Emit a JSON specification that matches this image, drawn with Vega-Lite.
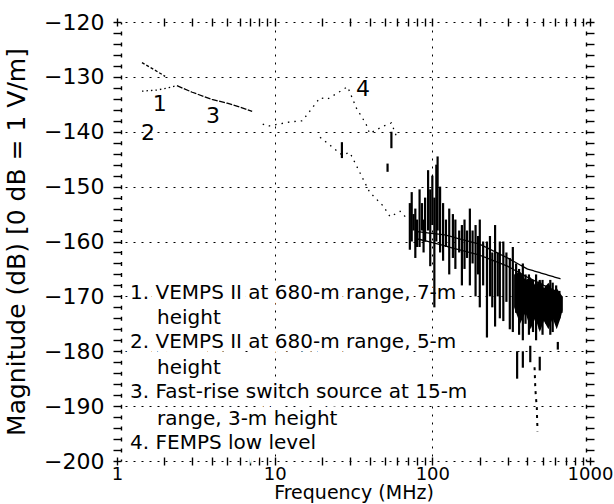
{
  "$schema": "https://vega.github.io/schema/vega-lite/v6.json",
  "width": 473,
  "height": 439,
  "autosize": "none",
  "padding": {"left": 117, "top": 22, "right": 24, "bottom": 43},
  "background": "white",
  "config": {
    "view": {"stroke": null},
    "font": "DejaVu Sans",
    "axis": {
      "domainColor": "black", "tickColor": "black", "labelColor": "black", "titleColor": "black",
      "gridColor": "black", "labelFontSize": 20, "titleFontSize": 20, "titleFontWeight": "normal",
      "labelFont": "DejaVu Sans", "titleFont": "DejaVu Sans", "tickWidth": 1.4, "domainWidth": 1.4
    }
  },
  "datasets": {
    "spikes": [
      {"f": 72, "lo": -161.5, "hi": -153}, {"f": 74, "lo": -160, "hi": -151}, {"f": 76, "lo": -158, "hi": -155},
      {"f": 78, "lo": -163, "hi": -154}, {"f": 80, "lo": -161, "hi": -156}, {"f": 83, "lo": -161, "hi": -150.5},
      {"f": 86, "lo": -158, "hi": -153}, {"f": 88, "lo": -162, "hi": -156}, {"f": 90, "lo": -160, "hi": -152},
      {"f": 94, "lo": -158, "hi": -147}, {"f": 97, "lo": -164.5, "hi": -150.5}, {"f": 100, "lo": -157, "hi": -148},
      {"f": 103, "lo": -172, "hi": -152}, {"f": 106, "lo": -160, "hi": -146}, {"f": 108, "lo": -158, "hi": -144.5},
      {"f": 112, "lo": -162, "hi": -150}, {"f": 117, "lo": -163.5, "hi": -153}, {"f": 122, "lo": -161, "hi": -156},
      {"f": 128, "lo": -166, "hi": -154}, {"f": 135, "lo": -163, "hi": -155}, {"f": 140, "lo": -165, "hi": -156},
      {"f": 148, "lo": -162, "hi": -158}, {"f": 154, "lo": -168, "hi": -157}, {"f": 160, "lo": -165, "hi": -156},
      {"f": 166, "lo": -163, "hi": -158}, {"f": 173, "lo": -168, "hi": -154}, {"f": 180, "lo": -164, "hi": -158},
      {"f": 188, "lo": -170, "hi": -157}, {"f": 195, "lo": -166, "hi": -159}, {"f": 200, "lo": -172, "hi": -156},
      {"f": 210, "lo": -168, "hi": -160}, {"f": 222, "lo": -177.5, "hi": -160}, {"f": 232, "lo": -170, "hi": -159},
      {"f": 240, "lo": -172, "hi": -162}, {"f": 250, "lo": -175.5, "hi": -157}, {"f": 260, "lo": -170, "hi": -162},
      {"f": 268, "lo": -174, "hi": -160}, {"f": 282, "lo": -174.5, "hi": -160}, {"f": 295, "lo": -171, "hi": -162},
      {"f": 310, "lo": -176, "hi": -163}, {"f": 324, "lo": -176.5, "hi": -161}, {"f": 340, "lo": -173, "hi": -164},
      {"f": 355, "lo": -177, "hi": -165}, {"f": 375, "lo": -178, "hi": -164}, {"f": 390, "lo": -175, "hi": -166},
      {"f": 410, "lo": -177, "hi": -166}, {"f": 435, "lo": -176.5, "hi": -167}, {"f": 455, "lo": -178, "hi": -166},
      {"f": 480, "lo": -176, "hi": -167}, {"f": 500, "lo": -177, "hi": -167}, {"f": 530, "lo": -175, "hi": -168},
      {"f": 560, "lo": -177, "hi": -167}, {"f": 580, "lo": -176.5, "hi": -167.5}, {"f": 610, "lo": -175, "hi": -168},
      {"f": 640, "lo": -174, "hi": -169}, {"f": 660, "lo": -173, "hi": -170},
      {"f": 345, "lo": -185, "hi": -180}, {"f": 375, "lo": -183, "hi": -180}, {"f": 418, "lo": -182, "hi": -179},
      {"f": 480, "lo": -183.5, "hi": -181}, {"f": 625, "lo": -179.7, "hi": -178.3},
      {"f": 26.7, "lo": -144.8, "hi": -141.9}, {"f": 52, "lo": -147.3, "hi": -145.8}, {"f": 55, "lo": -143, "hi": -140}
    ],
    "band": [
      {"f": 330, "lo": -172, "hi": -166}, {"f": 360, "lo": -175, "hi": -165.5}, {"f": 390, "lo": -173, "hi": -167},
      {"f": 420, "lo": -176, "hi": -166.5}, {"f": 450, "lo": -174, "hi": -168}, {"f": 480, "lo": -176.5, "hi": -167},
      {"f": 510, "lo": -174.5, "hi": -168.5}, {"f": 545, "lo": -176, "hi": -167.5}, {"f": 580, "lo": -174, "hi": -169},
      {"f": 615, "lo": -176, "hi": -168.5}, {"f": 650, "lo": -174, "hi": -169.5}, {"f": 670, "lo": -172.5, "hi": -170}
    ],
    "trace": [
      {"f": 445, "m": -182.9}, {"f": 450, "m": -186.8}, {"f": 455, "m": -188.7},
      {"f": 460, "m": -190.3}, {"f": 462, "m": -192.5}, {"f": 465, "m": -194.6}
    ],
    "curves": [
      {"series": "1", "f": 1.44, "m": -127.4}, {"series": "1", "f": 1.7, "m": -128.6}, {"series": "1", "f": 2.02, "m": -129.9},
      {"series": "2", "f": 1.44, "m": -132.6}, {"series": "2", "f": 1.8, "m": -132.4}, {"series": "2", "f": 2.1, "m": -132.0}, {"series": "2", "f": 2.4, "m": -131.6},
      {"series": "3", "f": 2.4, "m": -131.6}, {"series": "3", "f": 3.0, "m": -132.8}, {"series": "3", "f": 4.0, "m": -134.1},
      {"series": "3", "f": 5.0, "m": -134.8}, {"series": "3", "f": 6.0, "m": -135.5}, {"series": "3", "f": 7.2, "m": -136.3},
      {"series": "4", "f": 8.4, "m": -138.6}, {"series": "4", "f": 9.0, "m": -139.0}, {"series": "4", "f": 12.5, "m": -138.2},
      {"series": "4", "f": 15, "m": -138.0}, {"series": "4", "f": 19.4, "m": -133.8}, {"series": "4", "f": 21.5, "m": -134.1},
      {"series": "4", "f": 29, "m": -131.8}, {"series": "4", "f": 33, "m": -135.7}, {"series": "4", "f": 38, "m": -138.6},
      {"series": "4", "f": 40, "m": -140.3}, {"series": "4", "f": 48.7, "m": -139.0}, {"series": "4", "f": 55, "m": -138.4},
      {"series": "4", "f": 60, "m": -141.3},
      {"series": "4b", "f": 19.4, "m": -141.0}, {"series": "4b", "f": 26.7, "m": -144.2}, {"series": "4b", "f": 30, "m": -143.8},
      {"series": "4b", "f": 40, "m": -151.0}, {"series": "4b", "f": 48.7, "m": -153.5}, {"series": "4b", "f": 54, "m": -155.5},
      {"series": "4b", "f": 62.5, "m": -154.5}, {"series": "4b", "f": 70, "m": -156.0},
      {"series": "L1", "f": 80, "m": -158.2}, {"series": "L1", "f": 120, "m": -158.8}, {"series": "L1", "f": 200, "m": -160.5},
      {"series": "L1", "f": 300, "m": -163.0}, {"series": "L1", "f": 400, "m": -165.0}, {"series": "L1", "f": 650, "m": -166.8},
      {"series": "L2", "f": 80, "m": -159.5}, {"series": "L2", "f": 120, "m": -160.8}, {"series": "L2", "f": 200, "m": -162.5},
      {"series": "L2", "f": 300, "m": -164.5}, {"series": "L2", "f": 400, "m": -166.5}, {"series": "L2", "f": 600, "m": -169.0}
    ],
    "numbers": [
      {"f": 1.87, "m": -135.0, "text": "1"}, {"f": 1.57, "m": -140.3, "text": "2"},
      {"f": 4.06, "m": -137.1, "text": "3"}, {"f": 36.3, "m": -132.2, "text": "4"}
    ],
    "legend": [
      {"f": 1.21, "m": -169.4, "text": "1. VEMPS II at 680-m range, 7-m"},
      {"f": 1.795, "m": -173.9, "text": "height"},
      {"f": 1.21, "m": -178.3, "text": "2. VEMPS II at 680-m range, 5-m"},
      {"f": 1.795, "m": -183.0, "text": "height"},
      {"f": 1.21, "m": -187.4, "text": "3. Fast-rise switch source at 15-m"},
      {"f": 1.795, "m": -192.3, "text": "range, 3-m height"},
      {"f": 1.21, "m": -196.7, "text": "4. FEMPS low level"}
    ]
  },
  "layer": [
    {
      "data": {"name": "legend"},
      "mark": {"type": "text", "fontSize": 20, "align": "left", "baseline": "middle", "color": "white", "stroke": "white", "strokeWidth": 9, "font": "DejaVu Sans"},
      "encoding": {
        "x": {
          "field": "f", "type": "quantitative",
          "scale": {"type": "log", "domain": [1, 1000], "nice": false},
          "axis": {
            "orient": "bottom", "values": [1,2,3,4,5,6,7,8,9,10,20,30,40,50,60,70,80,90,100,200,300,400,500,600,700,800,900,1000],
            "format": "d",
            "labelExpr": "datum.value == 1 || datum.value == 10 || datum.value == 100 || datum.value == 1000 ? datum.label : ''",
            "labelFontSize": 18,
            "title": "Frequency (MHz)", "titlePadding": 0, "labelPadding": 0, "titleFontSize": 19,
            "offset": -4, "tickSize": 8, "domain": false,
            "grid": true, "gridDash": [2, 6], "gridWidth": 1,
            "gridOpacity": {"condition": {"test": "datum.value == 10 || datum.value == 100", "value": 1}, "value": 0},
            "labelFlush": false, "labelOverlap": false
          }
        },
        "y": {
          "field": "m", "type": "quantitative",
          "scale": {"domain": [-200, -120], "nice": false, "zero": false},
          "axis": {
            "orient": "left",
            "values": [-200,-198,-196,-194,-192,-190,-188,-186,-184,-182,-180,-178,-176,-174,-172,-170,-168,-166,-164,-162,-160,-158,-156,-154,-152,-150,-148,-146,-144,-142,-140,-138,-136,-134,-132,-130,-128,-126,-124,-122,-120],
            "format": "d",
            "labelExpr": "datum.value % 10 == 0 ? datum.label : ''",
            "labelFontSize": 22,
            "title": "Magnitude (dB) [0 dB = 1 V/m]", "titleFontSize": 25, "titlePadding": 14, "labelPadding": 9,
            "offset": -4, "tickSize": 8, "domainDash": [4, 6.975], "domainDashOffset": 2,
            "grid": true, "gridDash": [2, 6], "gridWidth": 1,
            "gridOpacity": {"condition": {"test": "datum.value % 10 == 0", "value": 1}, "value": 0},
            "labelOverlap": false
          }
        },
        "text": {"field": "text"}
      }
    },
    {
      "data": {"name": "spikes"},
      "mark": {"type": "rule", "strokeWidth": 2.2, "color": "black"},
      "encoding": {
        "x": {"field": "f", "type": "quantitative", "axis": null},
        "y": {"field": "lo", "type": "quantitative", "axis": null},
        "y2": {"field": "hi"}
      }
    },
    {
      "data": {"name": "curves"},
      "mark": {"type": "line", "strokeWidth": 1.3, "color": "black"},
      "encoding": {
        "x": {
          "field": "f", "type": "quantitative",
          "axis": {
            "orient": "top", "values": [1,2,3,4,5,6,7,8,9,10,20,30,40,50,60,70,80,90,100,200,300,400,500,600,700,800,900,1000],
            "labels": false, "title": null, "offset": -4, "tickSize": 8, "domain": false, "grid": false
          }
        },
        "y": {
          "field": "m", "type": "quantitative",
          "axis": {
            "orient": "right",
            "values": [-200,-198,-196,-194,-192,-190,-188,-186,-184,-182,-180,-178,-176,-174,-172,-170,-168,-166,-164,-162,-160,-158,-156,-154,-152,-150,-148,-146,-144,-142,-140,-138,-136,-134,-132,-130,-128,-126,-124,-122,-120],
            "labels": false, "title": null, "offset": -4, "tickSize": 8,
            "domainDash": [4, 6.975], "domainDashOffset": 2, "grid": false
          }
        },
        "detail": {"field": "series"},
        "strokeDash": {
          "field": "series", "type": "nominal", "legend": null,
          "scale": {"domain": ["1", "2", "3", "4", "4b", "L1", "L2"],
                    "range": [[3, 2], [1.5, 3], [6, 1.5], [1.5, 5], [1.5, 5], [1, 0], [1, 0]]}
        }
      }
    },
    {
      "data": {"name": "trace"},
      "mark": {"type": "line", "strokeWidth": 2, "color": "black", "strokeDash": [3, 5]},
      "encoding": {
        "x": {"field": "f", "type": "quantitative", "axis": null},
        "y": {"field": "m", "type": "quantitative", "axis": null}
      }
    },
    {
      "data": {"name": "band"},
      "mark": {"type": "area", "color": "black"},
      "encoding": {
        "x": {"field": "f", "type": "quantitative", "axis": null},
        "y": {"field": "lo", "type": "quantitative", "axis": null},
        "y2": {"field": "hi"}
      }
    },
    {
      "mark": {"type": "rule", "strokeWidth": 1.5, "color": "black"},
      "encoding": {"y": {"datum": -120, "type": "quantitative", "axis": null}}
    },
    {
      "mark": {"type": "rule", "strokeWidth": 1.5, "color": "black"},
      "encoding": {"y": {"datum": -200, "type": "quantitative", "axis": null}}
    },
    {
      "data": {"name": "numbers"},
      "mark": {"type": "text", "fontSize": 22, "align": "center", "baseline": "middle", "color": "black", "font": "DejaVu Sans"},
      "encoding": {
        "x": {"field": "f", "type": "quantitative", "axis": null},
        "y": {"field": "m", "type": "quantitative", "axis": null},
        "text": {"field": "text"}
      }
    },
    {
      "data": {"name": "legend"},
      "mark": {"type": "text", "fontSize": 20, "align": "left", "baseline": "middle", "color": "black", "font": "DejaVu Sans"},
      "encoding": {
        "x": {"field": "f", "type": "quantitative", "axis": null},
        "y": {"field": "m", "type": "quantitative", "axis": null},
        "text": {"field": "text"}
      }
    }
  ],
  "resolve": {"axis": {"x": "independent", "y": "independent"}}
}
